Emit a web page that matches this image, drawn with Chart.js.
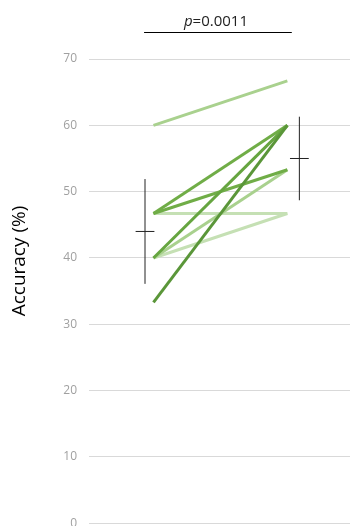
<!DOCTYPE html>
<html>
<head>
<meta charset="utf-8">
<script src="https://cdn.jsdelivr.net/npm/chart.js@4/dist/chart.umd.min.js"></script>
<style>
  html, body { margin: 0; padding: 0; background: #fff; overflow: hidden; }
  #wrap { width: 350px; height: 543px; }
</style>
</head>
<body>
<div id="wrap"><canvas id="c" width="350" height="543"></canvas></div>
<script>
// Paired accuracy scores (%) per participant, before and after
const preScores  = [33.3, 40, 46.7, 46.7, 60, 40, 46.7, 40];
const postScores = [60, 60, 60, 53.3, 66.7, 53.3, 46.7, 46.7];

// Group mean and standard deviation (before, after)
const groupMeans = [44.0, 55.0];
const groupSDs   = [7.9, 6.3];

// Value axis ticks
const yTicks = [0, 10, 20, 30, 40, 50, 60, 70];

// Texts
const yTitle = 'Accuracy (%)';
const pItalic = 'p';
const pRest = '=0.0011';

// Styling and placement
const lineColours = ['#5a9639', '#66a540', '#70ad47', '#70ad47', '#a9d18e', '#a9d18e', '#c5e0b4', '#c5e0b4'];
const X_PRE = 0.247, X_POST = 0.760;
const X_BAR = [0.2146, 0.806];
const CAP_HALF = 0.036;
const BRACKET_X = [0.211, 0.777];
const BRACKET_Y = 74.0;

const datasets = [];

// One line per participant
preScores.forEach((v, i) => {
  datasets.push({
    type: 'line',
    data: [{ x: X_PRE, y: v }, { x: X_POST, y: postScores[i] }],
    borderColor: lineColours[i],
    borderWidth: 3,
    borderCapStyle: 'butt',
    pointRadius: 0,
    fill: false,
    order: i
  });
});

// Mean ± SD bars
groupMeans.forEach((m, g) => {
  const sd = groupSDs[g];
  const bx = X_BAR[g];
  datasets.push({
    type: 'line',
    data: [{ x: bx, y: m - sd }, { x: bx, y: m + sd }],
    borderColor: '#222', borderWidth: 1, pointRadius: 0, fill: false, order: -1
  });
  datasets.push({
    type: 'line',
    data: [{ x: bx - CAP_HALF, y: m }, { x: bx + CAP_HALF, y: m }],
    borderColor: '#222', borderWidth: 1, pointRadius: 0, fill: false, order: -1
  });
});

// Significance bracket, p-value and axis title
const annotate = {
  id: 'annotate',
  afterDraw(chart) {
    const { ctx, scales: { x, y } } = chart;
    const x0 = x.getPixelForValue(BRACKET_X[0]);
    const x1 = x.getPixelForValue(BRACKET_X[1]);
    const yb = Math.round(y.getPixelForValue(BRACKET_Y)) + 0.5;
    ctx.save();
    ctx.strokeStyle = '#000';
    ctx.lineWidth = 1;
    ctx.beginPath();
    ctx.moveTo(x0, yb);
    ctx.lineTo(x1, yb);
    ctx.stroke();

    const italicFont = 'italic 15px "Open Sans", sans-serif';
    const normalFont = '15px "Open Sans", sans-serif';
    ctx.font = italicFont;
    const w1 = ctx.measureText(pItalic).width;
    ctx.font = normalFont;
    const w2 = ctx.measureText(pRest).width;
    const cx = (x0 + x1) / 2 - 2;
    const tx = cx - (w1 + w2) / 2;
    const ty = yb - 7;
    ctx.fillStyle = '#222';
    ctx.textBaseline = 'alphabetic';
    ctx.textAlign = 'left';
    ctx.font = italicFont;
    ctx.fillText(pItalic, tx, ty);
    ctx.font = normalFont;
    ctx.fillText(pRest, tx + w1, ty);

    ctx.translate(20, 261);
    ctx.rotate(-Math.PI / 2);
    ctx.textAlign = 'center';
    ctx.textBaseline = 'middle';
    ctx.font = '19px "Open Sans", sans-serif';
    ctx.fillStyle = '#000';
    ctx.fillText(yTitle, 0, 0);
    ctx.restore();
  }
};

new Chart(document.getElementById('c'), {
  type: 'line',
  data: { datasets },
  plugins: [annotate],
  options: {
    responsive: false,
    animation: false,
    layout: { padding: { top: 59, bottom: 19.7, left: 0, right: 0 } },
    plugins: { legend: { display: false }, tooltip: { enabled: false } },
    scales: {
      x: { type: 'linear', min: 0, max: 1, display: false },
      y: {
        type: 'linear',
        min: yTicks[0],
        max: yTicks[yTicks.length - 1],
        afterBuildTicks(scale) { scale.ticks = yTicks.map(v => ({ value: v })); },
        afterFit(scale) { scale.width = 89; },
        border: { display: false },
        grid: { color: '#d9d9d9', lineWidth: 1, drawTicks: false },
        ticks: {
          padding: 12,
          color: '#a0a0a0',
          font: { family: '"Open Sans", sans-serif', size: 12 }
        }
      }
    }
  }
});
</script>
</body>
</html>
